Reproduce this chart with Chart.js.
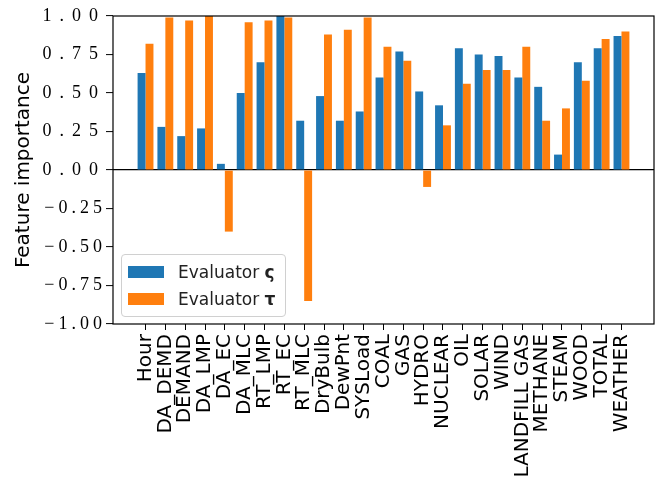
<!DOCTYPE html>
<html>
<head>
<meta charset="utf-8">
<script src="https://cdn.jsdelivr.net/npm/chart.js@4"></script>
<style>
  body { margin: 0; background: #fff; }
  #wrap { position: relative; width: 663px; height: 480px; }
  #legend {
    position: absolute;
    padding: 3px 10px 4px 6px;
    background: rgba(255, 255, 255, 0.8);
    border: 1px solid #d0d0d0;
    border-radius: 4px;
    font-family: "DejaVu Sans", sans-serif;
    font-size: 17px;
    color: #222;
  }
  #legend .row { display: flex; align-items: center; height: 27px; }
  #legend .patch { width: 36px; height: 12px; margin-right: 14px; }
</style>
</head>
<body>
<div id="wrap">
  <canvas id="myChart" width="663" height="480"></canvas>
  <div id="legend"></div>
</div>
<script>
let categories = ['Hour', 'DA_DEMD', 'DEMAND', 'DA_LMP', 'DA_EC', 'DA_MLC', 'RT_LMP', 'RT_EC', 'RT_MLC',
    'DryBulb', 'DewPnt', 'SYSLoad', 'COAL', 'GAS', 'HYDRO', 'NUCLEAR', 'OIL', 'SOLAR', 'WIND',
    'LANDFILL GAS', 'METHANE', 'STEAM', 'WOOD', 'TOTAL', 'WEATHER'];
let sigmaValues = [0.63, 0.28, 0.22, 0.27, 0.04, 0.50, 0.70, 1.00, 0.32, 0.48, 0.32, 0.38, 0.60,
    0.77, 0.51, 0.42, 0.79, 0.75, 0.74, 0.60, 0.54, 0.10, 0.70, 0.79, 0.87];
let tauValues = [0.82, 0.99, 0.97, 1.00, -0.40, 0.96, 0.97, 0.99, -0.85, 0.88, 0.91, 0.99, 0.80,
    0.71, -0.11, 0.29, 0.56, 0.65, 0.65, 0.80, 0.32, 0.40, 0.58, 0.85, 0.90];
let seriesNames = ['Evaluator ς', 'Evaluator τ'];
let yTicks = [-1, -0.75, -0.5, -0.25, 0, 0.25, 0.5, 0.75, 1];

function fmt(v) {
    let s = Math.abs(v).toFixed(2);
    return v < 0 ? '\u2212' + s : s;
}

// draws the box round the plot
const frame = {
    id: 'frame',
    afterDatasetsDraw(chart) {
        const a = chart.chartArea;
        const ctx = chart.ctx;
        ctx.save();
        ctx.strokeStyle = '#000';
        ctx.lineWidth = 1.2;
        ctx.strokeRect(a.left, a.top, a.right - a.left, a.bottom - a.top);
        ctx.restore();
    }
};

// spaced-out y tick labels, like the mathtext ones (negatives sit tighter)
const spacedTicks = {
    id: 'spacedTicks',
    beforeDraw(chart) {
        const y = chart.scales.y;
        if (y._spaced) return;
        const draw = y.drawLabels.bind(y);
        y.drawLabels = function (area) {
            const ctx = this.ctx;
            const fill = ctx.fillText;
            ctx.fillText = function (text, x, yy, w) {
                this.letterSpacing = String(text).startsWith('\u2212') ? '4px' : '8px';
                return fill.call(this, text, x, yy, w);
            };
            draw(area);
            ctx.fillText = fill;
            ctx.letterSpacing = '0px';
        };
        y._spaced = true;
    }
};

const htmlLegend = {
    id: 'htmlLegend',
    afterRender(chart) {
        const box = document.getElementById('legend');
        if (!box.childElementCount) {
            chart.data.datasets.forEach((ds) => {
                let row = document.createElement('div');
                row.className = 'row';
                let patch = document.createElement('span');
                patch.className = 'patch';
                patch.style.background = ds.backgroundColor;
                let parts = ds.label.split(' ');
                let text = document.createElement('span');
                text.innerHTML = parts[0] + ' <b>' + parts[1] + '</b>';
                row.appendChild(patch);
                row.appendChild(text);
                box.appendChild(row);
            });
        }
        const a = chart.chartArea;
        box.style.left = (a.left + 8) + 'px';
        box.style.top = (a.bottom - 7 - box.offsetHeight) + 'px';
    }
};

function chart() {
    let ctx = document.getElementById('myChart').getContext('2d');
    new Chart(ctx, {
        type: 'bar',
        data: {
            datasets: [{
                label: seriesNames[0],
                data: sigmaValues.map((v, i) => ({ x: i, y: v })),
                backgroundColor: '#1f77b4',
                borderWidth: 0,
            }, {
                label: seriesNames[1],
                data: tauValues.map((v, i) => ({ x: i, y: v })),
                backgroundColor: '#ff7f0e',
                borderWidth: 0,
            }]
        },
        options: {
            responsive: false,
            animation: false,
            categoryPercentage: 0.8,
            barPercentage: 1.0,
            layout: {
                padding: { left: 4, top: 16, right: 9, bottom: 0 }
            },
            scales: {
                x: {
                    type: 'linear',
                    min: -1.64,
                    max: categories.length - 1 + 1.64,
                    offset: false,
                    afterBuildTicks: (scale) => {
                        scale.ticks = categories.map((c, i) => ({ value: i }));
                    },
                    afterFit: (scale) => {
                        scale.height = 156;
                    },
                    grid: {
                        offset: false,
                        drawOnChartArea: false,
                        tickLength: 6,
                        tickColor: '#000',
                        tickWidth: 1,
                    },
                    border: { display: false },
                    ticks: {
                        autoSkip: false,
                        minRotation: 90,
                        maxRotation: 90,
                        padding: 4,
                        color: '#000',
                        font: { family: 'DejaVu Sans', size: 20 },
                        callback: (value) => categories[value],
                    }
                },
                y: {
                    min: -1,
                    max: 1,
                    afterBuildTicks: (scale) => {
                        scale.ticks = yTicks.map((v) => ({ value: v }));
                    },
                    afterFit: (scale) => {
                        scale.width = 109;
                    },
                    grid: {
                        drawOnChartArea: true,
                        color: (c) => (c.tick && c.tick.value === 0 ? '#000' : 'rgba(0,0,0,0)'),
                        lineWidth: 1.2,
                        tickLength: 7,
                        tickColor: '#000',
                        tickWidth: 1,
                    },
                    border: { display: false },
                    ticks: {
                        padding: 0,
                        color: '#000',
                        font: { family: 'Liberation Serif', size: 18 },
                        callback: (value) => fmt(value),
                    },
                    title: {
                        display: true,
                        text: 'Feature importance',
                        color: '#000',
                        font: { family: 'DejaVu Sans', size: 20 },
                        padding: { top: 8, bottom: 0 },
                    }
                }
            },
            plugins: {
                legend: { display: false },
                tooltip: { enabled: false }
            }
        },
        plugins: [frame, spacedTicks, htmlLegend]
    });
}

window.addEventListener('DOMContentLoaded', (event) => {
    chart();
});
</script>
</body>
</html>
